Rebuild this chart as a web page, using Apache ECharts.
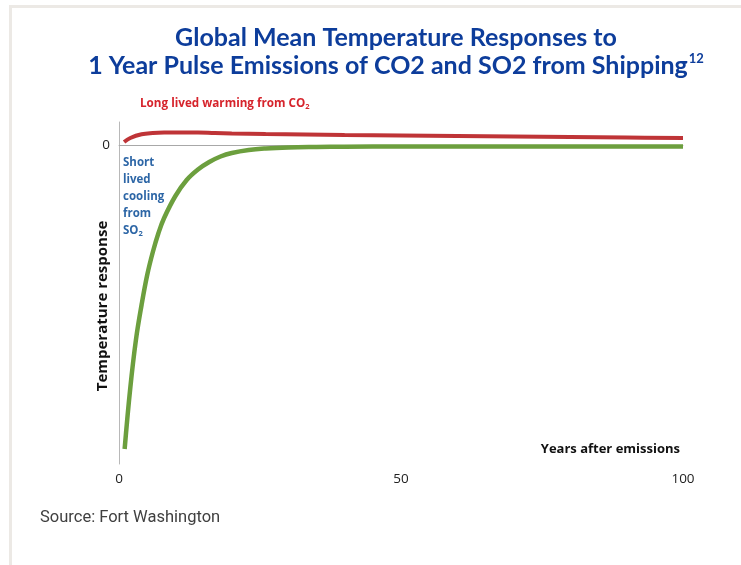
<!DOCTYPE html>
<html>
<head>
<meta charset="utf-8">
<script src="https://cdn.jsdelivr.net/npm/echarts@6/dist/echarts.min.js"></script>
<style>
  html, body { margin: 0; padding: 0; background: #ffffff; }
  #chart { width: 741px; height: 565px; }
</style>
</head>
<body>
<div id="chart"></div>
<script>
// Years after the one-year pulse
const co2Years = [0.9, 2, 4, 6, 8, 11, 14, 17, 20, 26, 33, 40, 50, 60, 70, 80, 90, 100];
// Warming response to the CO2 pulse (arbitrary units)
const co2Response = [0.3, 0.7, 1.07, 1.2, 1.25, 1.26, 1.25, 1.2, 1.16, 1.1, 1.05, 1.0, 0.95, 0.9, 0.85, 0.8, 0.75, 0.7];

const so2Years = [1, 2, 3, 4, 5, 6, 7, 8, 10, 12, 14, 16, 18, 20, 23, 26, 30, 35, 40, 50, 60, 70, 80, 90, 100];
// Cooling response to the SO2 pulse (arbitrary units)
const so2Response = [-30.4, -24.3, -19.5, -16.0, -13.0, -10.7, -8.8, -7.3, -5.1, -3.5, -2.45, -1.7, -1.15, -0.8, -0.5, -0.35, -0.25, -0.2, -0.17, -0.15, -0.15, -0.15, -0.15, -0.15, -0.15];

const xTicks = [0, 50, 100];

const chart = echarts.init(document.getElementById('chart'), null, { renderer: 'canvas' });

const toPairs = (xs, ys) => xs.map((x, i) => [x, ys[i]]);
const bodyFont = 'Open Sans';

chart.setOption({
  animation: false,
  backgroundColor: '#ffffff',
  title: {
    left: 396,
    top: 24,
    padding: 0,
    textAlign: 'center',
    text: 'Global Mean Temperature Responses to\n1 Year Pulse Emissions of CO2 and SO2 from Shipping{sup|12}',
    textStyle: {
      color: '#0d3d9b',
      fontFamily: 'Lato',
      fontSize: 25,
      fontWeight: 'bold',
      lineHeight: 28,
      align: 'center',
      rich: {
        sup: { fontSize: 13, color: '#0d3d9b', fontFamily: 'Lato', fontWeight: 'bold', verticalAlign: 'top', lineHeight: 28, padding: [0, 0, 12, 1] }
      }
    }
  },
  grid: { left: 119, right: 58, top: 122, bottom: 101, containLabel: false },
  xAxis: {
    type: 'value',
    min: 0,
    max: 100,
    interval: 50,
    axisLine: { show: true, lineStyle: { color: '#b8b8b8', width: 1 } },
    axisTick: { show: false },
    splitLine: { show: false },
    axisLabel: {
      margin: 8,
      color: '#222222',
      fontFamily: bodyFont,
      fontSize: 13.5,
      customValues: xTicks
    }
  },
  yAxis: {
    type: 'value',
    min: -31.9,
    max: 2.3,
    axisLine: { show: true, onZero: false, lineStyle: { color: '#b8b8b8', width: 1 } },
    axisTick: { show: false },
    splitLine: { show: false },
    axisLabel: {
      margin: 9,
      color: '#222222',
      fontFamily: bodyFont,
      fontSize: 13.5,
      customValues: [0]
    }
  },
  series: [
    {
      name: 'CO2',
      type: 'line',
      smooth: 0.4,
      showSymbol: false,
      data: toPairs(co2Years, co2Response),
      lineStyle: { color: '#bf3437', width: 4 },
      z: 3
    },
    {
      name: 'SO2',
      type: 'line',
      smooth: 0.4,
      showSymbol: false,
      data: toPairs(so2Years, so2Response),
      lineStyle: { color: '#6c9f3e', width: 4.5 },
      z: 4,
      markLine: {
        silent: true,
        symbol: 'none',
        label: { show: false },
        lineStyle: { color: '#a8a8a8', width: 1, type: 'solid' },
        data: [{ yAxis: 0 }],
        z: 2
      }
    }
  ],
  graphic: [
    // page frame
    { type: 'rect', shape: { x: 9, y: 5, width: 732, height: 3 }, style: { fill: '#ece9e5' }, silent: true },
    { type: 'rect', shape: { x: 9, y: 5, width: 3, height: 560 }, style: { fill: '#ece9e5' }, silent: true },
    {
      type: 'text',
      x: 140, y: 104,
      style: {
        text: 'Long lived warming from CO{sub|2}',
        fill: '#d6242c',
        fontFamily: bodyFont,
        fontWeight: 'bold',
        fontSize: 11.7,
        verticalAlign: 'middle',
        rich: { sub: { fontSize: 7.5, fill: '#d6242c', fontWeight: 'bold', fontFamily: bodyFont, padding: [6, 0, 0, 0] } }
      }
    },
    {
      type: 'text',
      x: 123, y: 154,
      style: {
        text: 'Short\nlived\ncooling\nfrom\nSO{sub|2}',
        fill: '#2d66a6',
        fontFamily: bodyFont,
        fontWeight: 'bold',
        fontSize: 11.5,
        lineHeight: 17,
        rich: { sub: { fontSize: 7.5, fill: '#2d66a6', fontWeight: 'bold', fontFamily: bodyFont, lineHeight: 17, padding: [7, 0, 0, 0] } }
      }
    },
    {
      type: 'text',
      x: 103, y: 306,
      rotation: Math.PI / 2,
      style: {
        text: 'Temperature response',
        fill: '#111111',
        fontFamily: bodyFont,
        fontWeight: 'bold',
        fontSize: 15,
        align: 'center',
        verticalAlign: 'middle'
      }
    },
    {
      type: 'text',
      x: 680, y: 449,
      style: {
        text: 'Years after emissions',
        fill: '#111111',
        fontFamily: bodyFont,
        fontWeight: 'bold',
        fontSize: 13,
        align: 'right',
        verticalAlign: 'middle'
      }
    },
    {
      type: 'text',
      x: 40, y: 518,
      style: {
        text: 'Source: Fort Washington',
        fill: '#404040',
        fontFamily: 'Roboto',
        fontSize: 16.5,
        verticalAlign: 'middle'
      }
    }
  ]
});
</script>
</body>
</html>
